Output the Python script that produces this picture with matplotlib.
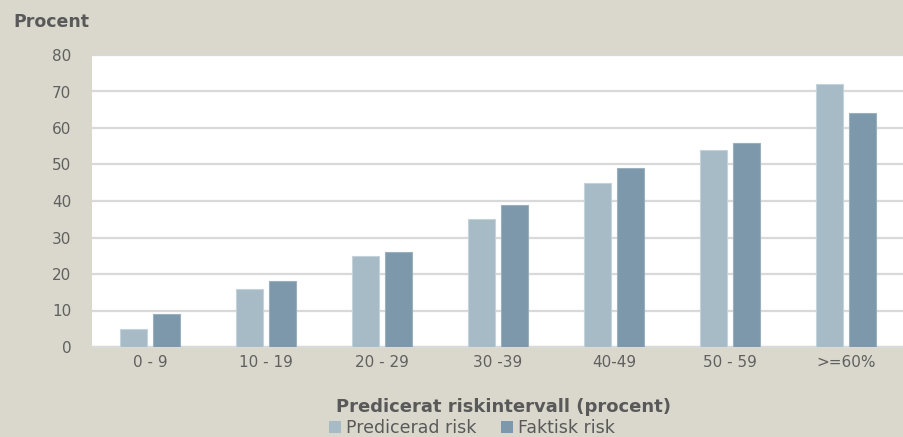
import matplotlib
matplotlib.use("Agg")
import matplotlib.pyplot as plt
from matplotlib.patches import Patch
import numpy as np

categories = ["0 - 9", "10 - 19", "20 - 29", "30 -39", "40-49", "50 - 59", ">=60%"]
predicted = [5, 16, 25, 35, 45, 54, 72]
actual = [9, 18, 26, 39, 49, 56, 64]
yticks = [0, 10, 20, 30, 40, 50, 60, 70, 80]

bg = "#dad8cc"
c_pred = "#a7bbc6"
c_act = "#7d98aa"
txt = "#595959"

plt.rcParams["font.family"] = ["DejaVu Sans"]

fig = plt.figure(figsize=(9.04, 4.37), dpi=100, facecolor=bg)
ax = fig.add_axes([92 / 904, 1 - 347 / 437, 1 - 92 / 904, (347 - 55) / 437])
ax.set_facecolor("white")

x = np.arange(len(categories))
w = 0.233
off = 0.145
ax.bar(x - off, predicted, w, color=c_pred, edgecolor="#c4d2da", linewidth=0.8, zorder=3)
ax.bar(x + off, actual, w, color=c_act, edgecolor="#9bb0bd", linewidth=0.8, zorder=3)

ax.set_xlim(-0.5, len(categories) - 0.5)
ax.set_ylim(0, 80)
ax.set_yticks(yticks)
ax.set_yticklabels([str(v) for v in yticks])
ax.set_xticks(x)
ax.set_xticklabels(categories)
ax.yaxis.grid(True, color="#d9d9d9", linewidth=1.6, zorder=0)
ax.set_axisbelow(True)
for s in ["top", "right", "left"]:
    ax.spines[s].set_visible(False)
ax.spines["bottom"].set_color("#d9d9d9")
ax.spines["bottom"].set_linewidth(1.6)
ax.tick_params(axis="both", length=0, colors="#606060", labelsize=11)
ax.tick_params(axis="y", pad=15)
ax.tick_params(axis="x", pad=6)

fig.text(13 / 904, 1 - 22 / 437, "Procent", fontsize=12.5, fontweight="bold",
         color=txt, ha="left", va="center")
fig.text(504 / 904, 1 - 407 / 437, "Predicerat riskintervall (procent)", fontsize=13,
         fontweight="bold", color=txt, ha="center", va="center")

handles = [Patch(facecolor=c_pred, label="Predicerad risk"),
           Patch(facecolor=c_act, label="Faktisk risk")]
leg = fig.legend(handles=handles, loc="center", bbox_to_anchor=(472 / 904, 1 - 428 / 437),
                 ncol=2, frameon=False, fontsize=12.5, handlelength=0.7, handleheight=0.7,
                 handletextpad=0.3, columnspacing=1.4, borderpad=0)
for t in leg.get_texts():
    t.set_color(txt)

fig.savefig("out.png", dpi=100, facecolor=bg)
